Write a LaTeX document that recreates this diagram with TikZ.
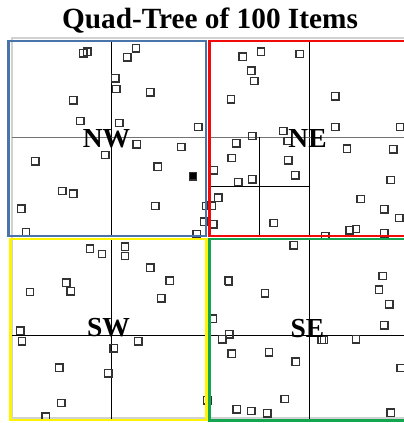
\documentclass[tikz,border=0pt]{standalone}
\usepackage{fontspec}
\setmainfont{Liberation Serif}
\definecolor{qblue}{RGB}{72,116,170}
\definecolor{qred}{RGB}{240,10,10}
\definecolor{qyellow}{RGB}{255,245,0}
\definecolor{qgreen}{RGB}{20,165,80}
\tikzset{
  item/.style={draw=black!80, line width=1.1pt, minimum size=7.4pt, inner sep=0pt, rectangle},
  fitem/.style={item, fill=black},
  quadbox/.style={line width=2.6pt},
  vsplit/.style={draw=black, line width=1pt},
  hsplit/.style={draw=black!55, line width=1.2pt},
  qlabel/.style={font=\fontsize{27.5}{30}\selectfont\bfseries, anchor=base, inner sep=0pt},
}
\begin{document}
\begin{tikzpicture}[x=1pt,y=-1pt]
\useasboundingbox (0,0) rectangle (404,423);
% title
\node[font=\fontsize{29.3}{31}\selectfont\bfseries, anchor=base, inner sep=0pt] (title) at (210,28) {Quad-Tree of 100 Items};
% light frame
\draw[black!18, line width=2pt] (11.5,37.5) rectangle (406,417.5);
% split lines
\draw[vsplit] (111,41) -- (111,236);
\draw[hsplit] (12,137.7) -- (206,137.7);
\draw[vsplit] (309.3,41) -- (309.3,236);
\draw[hsplit] (210,137.3) -- (406,137.3);
\draw[vsplit] (259.3,137.3) -- (259.3,236);
\draw[draw=black, line width=1.3pt] (211,186.7) -- (309.3,186.7);
\draw[vsplit] (111,239) -- (111,420);
\draw[vsplit] (12,335) -- (206,335);
\draw[vsplit] (309.3,239) -- (309.3,420);
\draw[vsplit] (210,335.3) -- (406,335.3);
% items
\foreach \x/\y [count=\i] in {
 83.3/53.3, 87.3/51.7, 136/48.3, 127.3/57.3, 115.3/78.3, 116.3/89, 150.3/92.3, 73.3/100.3,
 80.3/121, 119.3/123, 198.3/127, 136.7/144.3, 181.3/147, 105.3/155, 35.3/161.3, 157.7/166.7,
 62.3/191, 73.3/193.7, 21.3/208.7, 155.3/206, 206/206, 204/221.7, 26/232.3, 196.7/234,
 242.7/56.7, 261/51.7, 299.7/54, 251.3/70.7, 254.3/81, 231/99.3, 335.3/96.3, 283.3/131,
 335.3/127, 400/127, 252.3/136, 236.3/143.3, 287.7/141, 347/148.7, 393.3/149.3, 231.7/158,
 288.3/160.3, 213.7/170.3, 295.3/175.3, 238.3/182, 252.3/179.3, 390.7/180, 218.3/197.7,
 211.7/205.7, 360.7/199, 384.3/209.3, 399.3/218, 213.3/224.3, 273.7/223, 325.3/236,
 349.7/230.3, 356/229, 384.3/233.5,
 293.7/245.3, 228.3/280.7, 229/281.3, 265/293.3, 382.7/276, 379/289.7, 389.3/304.3,
 384.3/325.3, 212.7/318.7, 229.3/334.3, 222.3/339.3, 321.7/340, 324/340, 356/339.3,
 231.7/353.7, 269/352.3, 295.7/361.7, 400.7/368, 207.3/400.3, 284.7/399, 236.7/409.3,
 251.3/411, 267.3/413.3, 390.7/412.7,
 90/248.7, 102/254, 125/246.7, 125/256, 150.3/267.7, 169.7/280.7, 161.3/298.3, 66.3/282.7,
 70.7/291.3, 30/292, 20.3/330.7, 22/341.3, 138.3/341.3, 113.7/348.3, 59.3/367.7,
 108.3/373.3, 61.3/403, 45.7/416.7}
  \node[item] (s\i) at (\x,\y) {};
\node[fitem] (sel) at (193,176.3) {};
% quadrant boxes
\draw[quadbox, qblue] (8.5,40.8) rectangle (206,236);
\draw[quadbox, qred] (209.7,40.8) rectangle (408,236);
\draw[quadbox, qyellow] (10.5,238.8) rectangle (206.5,420);
\draw[quadbox, qgreen] (209.7,239) rectangle (408,420.5);
% labels
\node[qlabel] (nw) at (106.5,147) {NW};
\node[qlabel] (ne) at (307.5,147) {NE};
\node[qlabel] (sw) at (108.5,336) {SW};
\node[qlabel] (se) at (307.5,337) {SE};
\end{tikzpicture}
\end{document}
